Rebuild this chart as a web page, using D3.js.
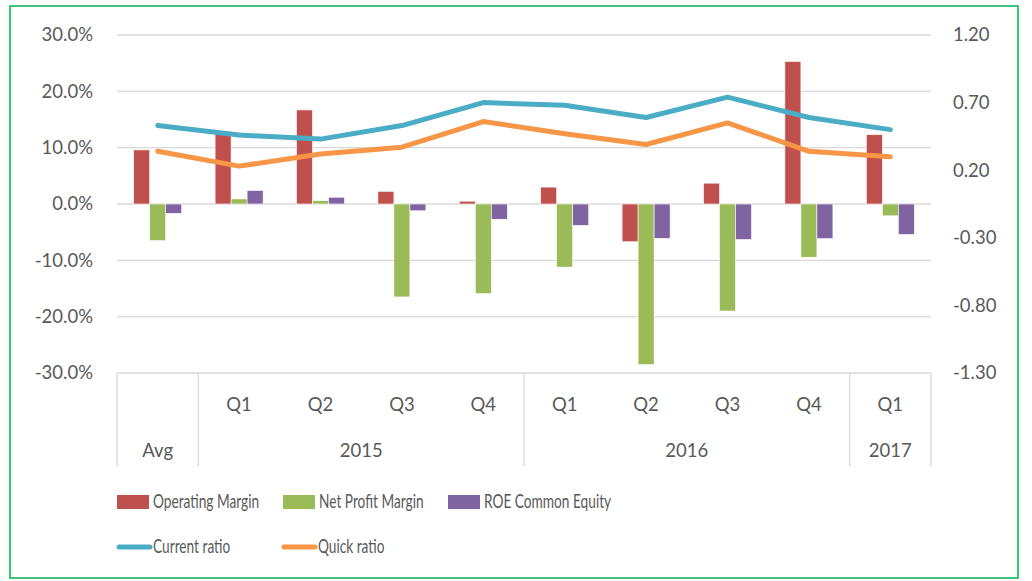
<!DOCTYPE html>
<html>
<head>
<meta charset="utf-8">
<script src="https://cdn.jsdelivr.net/npm/d3@7"></script>
<style>
  body { margin: 0; background: #fff; }
  text { font-family: Lato, "Open Sans", sans-serif; fill: #595959; font-size: 18.5px; }
</style>
</head>
<body>
<div id="chart"></div>
<script>
// category axis (two levels)
var quarterLabels = ["", "Q1", "Q2", "Q3", "Q4", "Q1", "Q2", "Q3", "Q4", "Q1"];
var groupLabels = ["Avg", "2015", "2016", "2017"];
var groupSizes = [1, 4, 4, 1];

// bar series (left axis, percent)
var operatingMargin = [9.6, 12.5, 16.7, 2.25, 0.5, 3.0, -6.7, 3.7, 25.3, 12.3];
var netProfitMargin = [-6.5, 0.9, 0.6, -16.5, -15.9, -11.2, -28.5, -19.0, -9.45, -2.1];
var roeCommonEquity = [-1.65, 2.4, 1.2, -1.2, -2.7, -3.8, -6.1, -6.3, -6.15, -5.4];

// line series (right axis)
var currentRatio = [0.53, 0.46, 0.43, 0.53, 0.70, 0.68, 0.59, 0.74, 0.59, 0.50];
var quickRatio = [0.34, 0.23, 0.32, 0.37, 0.56, 0.47, 0.39, 0.55, 0.34, 0.30];

var leftTicks = [30, 20, 10, 0, -10, -20, -30];
var rightTicks = [1.20, 0.70, 0.20, -0.30, -0.80, -1.30];

var barSeries = [
  {name: "Operating Margin", values: operatingMargin, color: "#C0504D"},
  {name: "Net Profit Margin", values: netProfitMargin, color: "#9BBB59"},
  {name: "ROE Common Equity", values: roeCommonEquity, color: "#8064A2"}
];
var lineSeries = [
  {name: "Current ratio", values: currentRatio, color: "#4BACC6"},
  {name: "Quick ratio", values: quickRatio, color: "#F79646"}
];

var W = 1032, H = 581;
var plotL = 117, plotR = 931, plotT = 35, plotB = 373;

function hyphen(s) { return s.replace("\u2212", "-"); }

var svg = d3.select("#chart").append("svg")
  .attr("width", W).attr("height", H);

// frame
svg.append("rect")
  .attr("x", 10).attr("y", 6).attr("width", 1008).attr("height", 572)
  .attr("fill", "none").attr("stroke", "#00B050").attr("stroke-width", 1.5);

var idx = d3.range(quarterLabels.length);
var x0 = d3.scaleBand().domain(idx).range([plotL, plotR]).paddingInner(0).paddingOuter(0);
var bw = x0.bandwidth();
var x1 = d3.scaleBand().domain(d3.range(barSeries.length)).range([bw * 0.205, bw * 0.795]);

var yL = d3.scaleLinear().domain([-30, 30]).range([plotB, plotT]);
var yR = d3.scaleLinear().domain([-1.30, 1.20]).range([plotB, plotT]);

// grid lines
svg.append("g").selectAll("line")
  .data(leftTicks)
  .enter().append("line")
  .attr("x1", plotL).attr("x2", plotR)
  .attr("y1", function(d) { return yL(d); })
  .attr("y2", function(d) { return yL(d); })
  .attr("stroke", "#D9D9D9").attr("stroke-width", 1.3);

// left axis labels
svg.append("g").selectAll("text")
  .data(leftTicks)
  .enter().append("text")
  .attr("x", 93).attr("y", function(d) { return yL(d); })
  .attr("dy", "0.35em").attr("text-anchor", "end")
  .text(function(d) { return hyphen(d3.format(".1f")(d)) + "%"; });

// right axis labels
svg.append("g").selectAll("text")
  .data(rightTicks)
  .enter().append("text")
  .attr("x", 953).attr("y", function(d) { return yR(d); })
  .attr("dy", "0.35em").attr("text-anchor", "start")
  .text(function(d) { return hyphen(d3.format(".2f")(d)); });

// category axis separators
var bounds = [0];
groupSizes.forEach(function(s) { bounds.push(bounds[bounds.length - 1] + s); });
svg.append("g").selectAll("line")
  .data(bounds)
  .enter().append("line")
  .attr("x1", function(d) { return plotL + d * bw; })
  .attr("x2", function(d) { return plotL + d * bw; })
  .attr("y1", plotB).attr("y2", 466)
  .attr("stroke", "#D9D9D9").attr("stroke-width", 1.3);

svg.append("g").selectAll("text")
  .data(quarterLabels)
  .enter().append("text")
  .attr("x", function(d, i) { return x0(i) + bw / 2; })
  .attr("y", 405).attr("dy", "0.35em")
  .attr("text-anchor", "middle")
  .text(function(d) { return d; });

svg.append("g").selectAll("text")
  .data(groupLabels)
  .enter().append("text")
  .attr("x", function(d, i) { return plotL + (bounds[i] + bounds[i + 1]) / 2 * bw; })
  .attr("y", 451).attr("dy", "0.35em")
  .attr("text-anchor", "middle")
  .text(function(d) { return d; });

// bars
var bars = svg.append("g");
barSeries.forEach(function(s, si) {
  bars.append("g").selectAll("rect")
    .data(s.values)
    .enter().append("rect")
    .attr("x", function(d, i) { return x0(i) + x1(si); })
    .attr("width", x1.bandwidth())
    .attr("y", function(d) { return Math.min(yL(d), yL(0)); })
    .attr("height", function(d) { return Math.abs(yL(d) - yL(0)); })
    .attr("fill", s.color)
    .attr("stroke", "#fff").attr("stroke-width", 0.6);
});

// lines
var line = d3.line()
  .x(function(d, i) { return x0(i) + bw / 2; })
  .y(function(d) { return yR(d); });
lineSeries.forEach(function(s) {
  svg.append("path")
    .datum(s.values)
    .attr("d", line)
    .attr("fill", "none")
    .attr("stroke", s.color)
    .attr("stroke-width", 5)
    .attr("stroke-linejoin", "round")
    .attr("stroke-linecap", "round");
});

// legend (text squeezed a little, the original font is narrower)
var leg = svg.append("g");
var squeeze = 0.74;
var barLegX = [117, 283, 448];
barSeries.forEach(function(s, i) {
  leg.append("rect")
    .attr("x", barLegX[i]).attr("y", 495).attr("width", 32).attr("height", 14)
    .attr("fill", s.color);
  leg.append("text")
    .attr("transform", "translate(" + (barLegX[i] + 36) + ",502) scale(" + squeeze + ",1)")
    .attr("dy", "0.35em")
    .text(s.name);
});
var lineLegX = [119, 284];
lineSeries.forEach(function(s, i) {
  leg.append("line")
    .attr("x1", lineLegX[i]).attr("x2", lineLegX[i] + 31)
    .attr("y1", 547).attr("y2", 547)
    .attr("stroke", s.color).attr("stroke-width", 5)
    .attr("stroke-linecap", "round");
  leg.append("text")
    .attr("transform", "translate(" + (lineLegX[i] + 34) + ",547) scale(" + squeeze + ",1)")
    .attr("dy", "0.35em")
    .text(s.name);
});
</script>
</body>
</html>
